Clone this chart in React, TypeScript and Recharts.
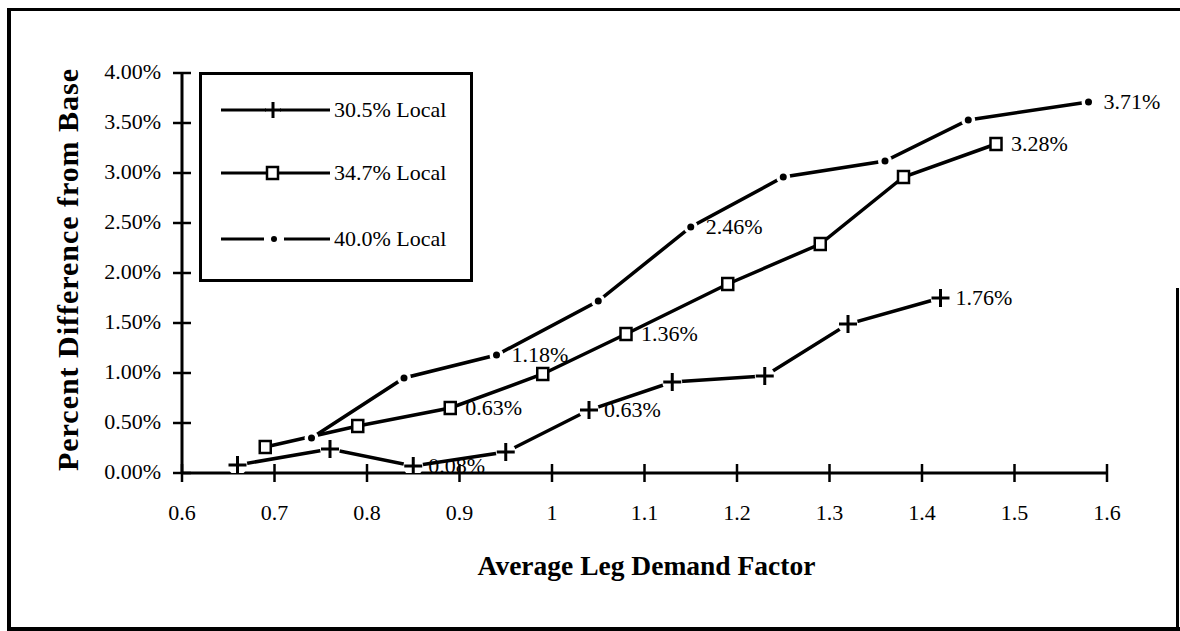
import { LineChart, Line, XAxis, YAxis, Legend, LabelList } from "recharts";

// axis ticks
const xTicks = [0.6, 0.7, 0.8, 0.9, 1, 1.1, 1.2, 1.3, 1.4, 1.5, 1.6];
const yTicks = [0, 0.5, 1, 1.5, 2, 2.5, 3, 3.5, 4];

const seriesNames = ["30.5% Local", "34.7% Local", "40.0% Local"];

// 30.5% local (plus markers)
const local305X = [0.66, 0.76, 0.85, 0.95, 1.04, 1.13, 1.23, 1.32, 1.42];
const local305Y = [0.08, 0.24, 0.07, 0.21, 0.63, 0.91, 0.97, 1.49, 1.75];
const local305Notes = ["", "", "0.08%", "", "0.63%", "", "", "", "1.76%"];

// 34.7% local (square markers)
const local347X = [0.69, 0.79, 0.89, 0.99, 1.08, 1.19, 1.29, 1.38, 1.48];
const local347Y = [0.26, 0.47, 0.65, 0.99, 1.39, 1.89, 2.29, 2.96, 3.29];
const local347Notes = ["", "", "0.63%", "", "1.36%", "", "", "", "3.28%"];

// 40.0% local (dot markers, broken line)
const local400X = [0.74, 0.84, 0.94, 1.05, 1.15, 1.25, 1.36, 1.45, 1.58];
const local400Y = [0.35, 0.95, 1.18, 1.72, 2.46, 2.96, 3.12, 3.53, 3.71];
const local400Notes = ["", "", "1.18%", "", "2.46%", "", "", "", "3.71%"];

const FONT = '"Liberation Serif", "Times New Roman", serif';

const toRows = (xs: number[], ys: number[], notes: string[]) =>
  xs.map((x, i) => ({ x, y: ys[i], note: notes[i] }));

const rows305 = toRows(local305X, local305Y, local305Notes);
const rows347 = toRows(local347X, local347Y, local347Notes);
const rows400 = toRows(local400X, local400Y, local400Notes);

const PlusDot = (props: any) => {
  const { cx, cy, index } = props;
  return (
    <g key={`plus-${index}`}>
      <circle cx={cx} cy={cy} r={10} fill="#fff" />
      <line x1={cx - 9} x2={cx + 9} y1={cy} y2={cy} stroke="#000" strokeWidth={3} />
      <line x1={cx} x2={cx} y1={cy - 9} y2={cy + 9} stroke="#000" strokeWidth={3} />
    </g>
  );
};

const SquareDot = (props: any) => {
  const { cx, cy, index } = props;
  return (
    <rect
      key={`sq-${index}`}
      x={cx - 5.5}
      y={cy - 6}
      width={11}
      height={12}
      fill="#fff"
      stroke="#000"
      strokeWidth={2.5}
    />
  );
};

const PointDot = (props: any) => {
  const { cx, cy, index } = props;
  return (
    <g key={`pt-${index}`}>
      <circle cx={cx} cy={cy} r={7} fill="#fff" />
      <circle cx={cx} cy={cy} r={3.5} fill="#000" />
    </g>
  );
};

const noteLabel = (props: any) => {
  const { x, y, value } = props;
  if (!value) return null;
  return (
    <text x={x + 15} y={y + 7} fontSize={22} fontFamily={FONT} fill="#000">
      {value}
    </text>
  );
};

const XTick = (props: any) => {
  const { x, y, payload } = props;
  return (
    <g>
      <line x1={x} x2={x} y1={y - 9} y2={y + 9} stroke="#000" strokeWidth={2.5} />
      <text x={x} y={y + 47} textAnchor="middle" fontSize={22} fontFamily={FONT} fill="#000">
        {String(payload.value)}
      </text>
    </g>
  );
};

const YTick = (props: any) => {
  const { x, y, payload } = props;
  return (
    <g>
      <line x1={x - 9} x2={x + 9} y1={y} y2={y} stroke="#000" strokeWidth={2.5} />
      <text x={x - 21} y={y + 6} textAnchor="end" fontSize={22} fontFamily={FONT} fill="#000">
        {`${payload.value.toFixed(2)}%`}
      </text>
    </g>
  );
};

const LegendBox = () => {
  const rowY = [35, 98, 164];
  return (
    <div
      style={{
        width: 274,
        height: 210,
        boxSizing: "border-box",
        border: "3px solid #000",
        background: "#fff",
      }}
    >
      <svg width={268} height={204} style={{ display: "block" }}>
        {seriesNames.map((name, i) => {
          const y = rowY[i];
          return (
            <g key={name}>
              {i === 1 ? (
                <line x1={19} x2={128} y1={y} y2={y} stroke="#000" strokeWidth={3} />
              ) : (
                <>
                  <line x1={19} x2={i === 0 ? 64 : 62} y1={y} y2={y} stroke="#000" strokeWidth={3} />
                  <line x1={i === 0 ? 78 : 82} x2={128} y1={y} y2={y} stroke="#000" strokeWidth={3} />
                </>
              )}
              {i === 0 && (
                <>
                  <line x1={63} x2={79} y1={y} y2={y} stroke="#000" strokeWidth={3} />
                  <line x1={71} x2={71} y1={y - 8} y2={y + 8} stroke="#000" strokeWidth={3} />
                </>
              )}
              {i === 1 && (
                <rect x={65} y={y - 6} width={11} height={12} fill="#fff" stroke="#000" strokeWidth={2.5} />
              )}
              {i === 2 && <circle cx={72} cy={y} r={3} fill="#000" />}
              <text x={132} y={y + 7} fontSize={22} fontFamily={FONT} fill="#000">
                {name}
              </text>
            </g>
          );
        })}
      </svg>
    </div>
  );
};

const XTitle = (props: any) => {
  const { viewBox } = props;
  const cx = viewBox.x + viewBox.width / 2;
  return (
    <text x={cx + 2} y={575} textAnchor="middle" fontSize={27.5} fontWeight="bold" fontFamily={FONT} fill="#000">
      Average Leg Demand Factor
    </text>
  );
};

const YTitle = () => (
  <text
    x={78}
    y={270}
    transform="rotate(-90 78 270)"
    textAnchor="middle"
    fontSize={30}
    fontWeight="bold"
    fontFamily={FONT}
    fill="#000"
    textLength={402}
    lengthAdjust="spacing"
  >
    Percent Difference from Base
  </text>
);

export default function App() {
  return (
    <div style={{ position: "absolute", left: 0, top: 0, width: 1180, height: 631, background: "#fff" }}>
      <div
        style={{
          position: "absolute",
          left: 7,
          top: 8,
          width: 1180,
          height: 623,
          boxSizing: "border-box",
          borderLeft: "4px solid #000",
          borderTop: "3px solid #000",
          borderBottom: "4px solid #000",
        }}
      />
      <div style={{ position: "absolute", left: 1176, top: 288, width: 3, height: 342, background: "#000" }} />
      <div style={{ position: "absolute", left: 0, top: 0 }}>
        <LineChart
          width={1180}
          height={631}
          margin={{ top: 73, right: 73, bottom: 98, left: 82 }}
          style={{ fontFamily: FONT }}
        >
          <XAxis
            dataKey="x"
            type="number"
            domain={[0.6, 1.6]}
            ticks={xTicks}
            allowDataOverflow
            height={60}
            axisLine={{ stroke: "#000", strokeWidth: 3 }}
            tickLine={false}
            tickSize={0}
            tickMargin={0}
            tick={<XTick />}
            interval={0}
            label={<XTitle />}
          />
          <YAxis
            type="number"
            domain={[0, 4]}
            ticks={yTicks}
            allowDataOverflow
            width={100}
            axisLine={{ stroke: "#000", strokeWidth: 3 }}
            tickLine={false}
            tickSize={0}
            tickMargin={0}
            tick={<YTick />}
            interval={0}
            label={<YTitle />}
          />
          <Legend
            layout="vertical"
            align="center"
            verticalAlign="middle"
            content={<LegendBox />}
            wrapperStyle={{ left: 199, top: 72, width: 274, height: 210 }}
          />
          <Line
            data={rows305}
            dataKey="y"
            name={seriesNames[0]}
            type="linear"
            stroke="#000"
            strokeWidth={3.5}
            dot={PlusDot}
            activeDot={false}
            isAnimationActive={false}
          >
            <LabelList dataKey="note" content={noteLabel} />
          </Line>
          <Line
            data={rows347}
            dataKey="y"
            name={seriesNames[1]}
            type="linear"
            stroke="#000"
            strokeWidth={3.5}
            dot={SquareDot}
            activeDot={false}
            isAnimationActive={false}
          >
            <LabelList dataKey="note" content={noteLabel} />
          </Line>
          <Line
            data={rows400}
            dataKey="y"
            name={seriesNames[2]}
            type="linear"
            stroke="#000"
            strokeWidth={3.5}
            dot={PointDot}
            activeDot={false}
            isAnimationActive={false}
          >
            <LabelList dataKey="note" content={noteLabel} />
          </Line>
        </LineChart>
      </div>
    </div>
  );
}
